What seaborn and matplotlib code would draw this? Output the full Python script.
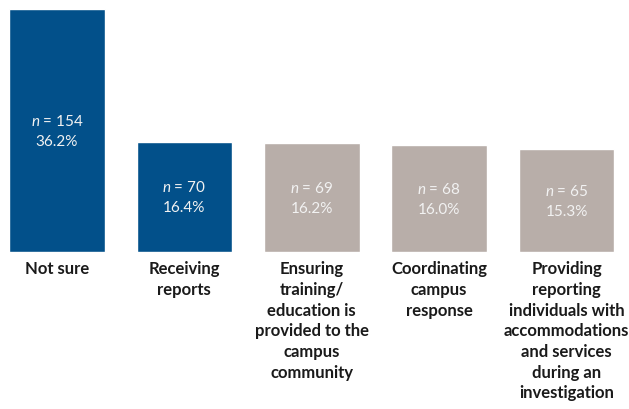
import matplotlib
matplotlib.use("Agg")
import matplotlib.pyplot as plt
import seaborn as sns
import pandas as pd

# --- Data ---
categories = ['Not sure', 'Receiving reports', 'Ensuring training/education',
              'Coordinating campus response', 'Providing reporting individuals']
tick_labels = ['Not sure',
               'Receiving\nreports',
               'Ensuring\ntraining/\neducation is\nprovided to the\ncampus\ncommunity',
               'Coordinating\ncampus\nresponse',
               'Providing\nreporting\nindividuals with\naccommodations\nand services\nduring an\ninvestigation']
counts = [154, 70, 69, 68, 65]
percents = [36.2, 16.4, 16.2, 16.0, 15.3]
highlight = [True, True, False, False, False]

blue = '#02508A'
gray = '#B8AEA9'

df = pd.DataFrame({'category': categories, 'percent': percents})
palette = {c: (blue if h else gray) for c, h in zip(categories, highlight)}

sns.set_theme(style="white")
plt.rcParams['font.family'] = ['Lato', 'DejaVu Sans']
plt.rcParams['mathtext.fontset'] = 'custom'
plt.rcParams['mathtext.it'] = 'Lato:italic'
plt.rcParams['mathtext.rm'] = 'Lato'

fig = plt.figure(figsize=(6.29, 4.10), dpi=100)
ax = fig.add_axes([0, 157 / 410, 1, 243 / 410])
sns.barplot(data=df, x='category', y='percent', hue='category', palette=palette,
            width=0.75, legend=False, ax=ax, saturation=1)

# n and share inside each bar
for i, (n, p) in enumerate(zip(counts, percents)):
    ax.text(i, p / 2, f"$n$ = {n}\n{p:.1f}%", ha='center', va='center',
            color='#F2F2F2', fontsize=11, linespacing=1.55)

ax.set_xlim(-0.447, 4.49)
ax.set_ylim(0, max(percents))
ax.set_xticks(range(len(categories)))
ax.set_xticklabels(tick_labels, fontsize=12, fontweight='bold', color='#1a1a1a',
                   linespacing=1.36, va='top')
ax.tick_params(axis='x', length=0, pad=6)
ax.set_yticks([])
ax.set_xlabel('')
ax.set_ylabel('')
sns.despine(ax=ax, left=True, bottom=True, top=True, right=True)

fig.savefig('out.png', dpi=100)
